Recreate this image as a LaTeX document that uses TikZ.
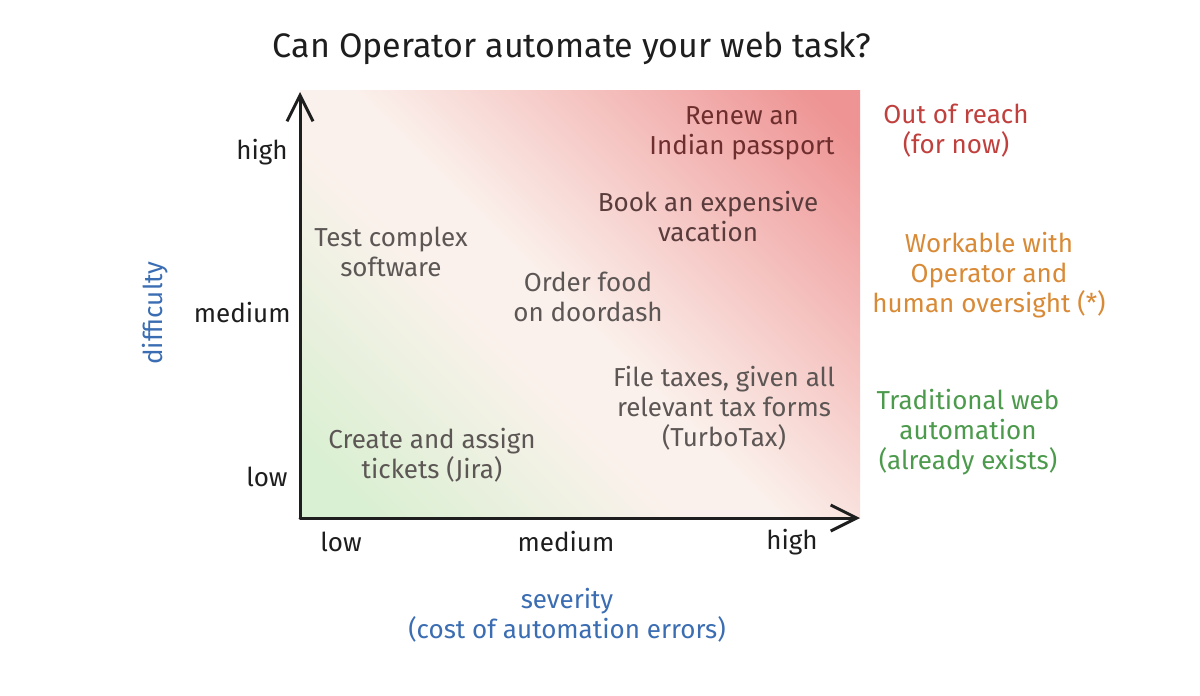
\documentclass[tikz,border=0pt]{standalone}
\usepackage{fontspec}
\setmainfont{Fira Sans}
\usetikzlibrary{arrows.meta}
\definecolor{inkblack}{HTML}{1E1E1E}
\definecolor{axisblue}{HTML}{3B6DB3}
\definecolor{reachred}{HTML}{C0403E}
\definecolor{workorange}{HTML}{D98A36}
\definecolor{tradgreen}{HTML}{4C9A4C}
\definecolor{taskdarkred}{HTML}{6E2E2E}
\definecolor{taskbrown}{HTML}{5A3C3C}
\definecolor{taskgrey}{HTML}{5C5654}
\definecolor{shadered}{HTML}{EE9494}
\definecolor{shademid}{HTML}{FBF1EC}
\definecolor{shadegreen}{HTML}{DAF0D2}
\pgfdeclarehorizontalshading{quadshade}{100bp}{color(0bp)=(shadegreen); color(20bp)=(shadegreen); color(42bp)=(shademid); color(49bp)=(shademid); color(82bp)=(shadered); color(100bp)=(shadered)}
\begin{document}
\begin{tikzpicture}[x=0.5pt,y=-0.5pt,
  lbl/.style={font=\fontsize{13}{15}\selectfont, align=center, inner sep=0pt},
  ticklbl/.style={lbl, text=inkblack},
  tasklbl/.style={lbl, text=taskgrey},
  catlbl/.style={lbl},
  axislbl/.style={lbl, text=axisblue},
  axisline/.style={draw=inkblack, line width=1.5pt, line cap=round,
    -{Straight Barb[length=13pt,width=13pt,line width=1.5pt]}}]
\useasboundingbox (0,0) rectangle (1200,696);
\fill[white] (0,0) rectangle (1200,696);
\shade[shading=quadshade, shading angle=45] (300,90) rectangle (860,518);
% axes
\coordinate (origin) at (300,518);
\coordinate (ytip) at (300,92);
\coordinate (xtip) at (860,518);
\draw[axisline] (origin) -- (ytip);
\draw[axisline] (origin) -- (xtip);
% title
\node[lbl, font=\fontsize{17}{20}\selectfont, text=inkblack] (title) at (572,48) {Can Operator automate your web task?};
% y ticks
\node[ticklbl, anchor=east] (yhigh) at (288,152) {high};
\node[ticklbl, anchor=east] (ymed) at (291,313) {medium};
\node[ticklbl, anchor=east] (ylow) at (288,477) {low};
\node[axislbl, rotate=90] (ylabel) at (155,313) {difficulty};
% x ticks
\node[ticklbl] (xlow) at (341,542) {low};
\node[ticklbl] (xmed) at (566,542) {medium};
\node[ticklbl] (xhigh) at (792,542) {high};
\node[axislbl] (xlabel) at (567,615) {severity\\(cost of automation errors)};
% tasks
\node[tasklbl, text=taskdarkred] (renew) at (742,133) {Renew an\\Indian passport};
\node[tasklbl, text=taskbrown] (book) at (708,217) {Book an expensive\\vacation};
\node[tasklbl] (test) at (391,252) {Test complex\\software};
\node[tasklbl] (order) at (588,297) {Order food\\on doordash};
\node[tasklbl] (taxes) at (724,408) {File taxes, given all\\relevant tax forms\\(TurboTax)};
\node[tasklbl] (jira) at (432,455) {Create and assign\\tickets (Jira)};
% categories
\node[catlbl, text=reachred] (reach) at (956,131) {Out of reach\\(for now)};
\node[catlbl, text=workorange] (work) at (989,275) {Workable with\\Operator and\\human oversight (*)};
\node[catlbl, text=tradgreen] (trad) at (968,432) {Traditional web\\automation\\(already exists)};
\end{tikzpicture}
\end{document}
